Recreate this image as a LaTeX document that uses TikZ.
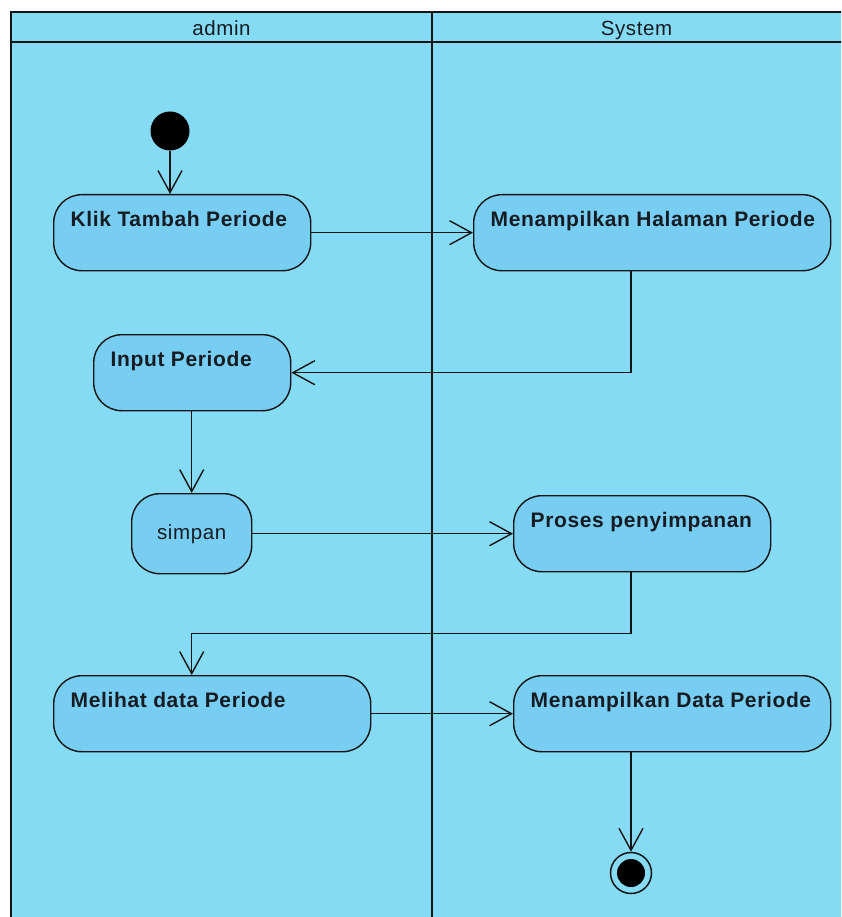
\documentclass[tikz,border=0pt]{standalone}
\usepackage{fontspec}
\setmainfont{Liberation Sans}[LetterSpace=3]
\usetikzlibrary{arrows.meta}
\definecolor{lanefill}{RGB}{133,219,243}
\definecolor{actfill}{RGB}{119,205,242}
\definecolor{ink}{RGB}{20,20,20}
\definecolor{txtink}{RGB}{22,28,34}

\begin{document}
\begin{tikzpicture}[x=1pt,y=-1pt,
  frameline/.style={draw=ink, line width=1.4pt},
  act/.style={draw=ink, fill=actfill, line width=1.4pt, rounded corners=28pt,
    anchor=north west, inner sep=0pt, text=txtink,
    font=\fontsize{20.5}{24}\selectfont},
  acttxt/.style={anchor=base west, inner sep=0pt, text=txtink,
    font=\fontsize{21}{24}\selectfont\bfseries, xshift=17.5pt, yshift=-32.5pt},
  lanetitle/.style={text=txtink, inner sep=0pt, anchor=base,
    font=\fontsize{20.5}{24}\selectfont},
  flow/.style={draw=ink, line width=1.4pt,
    -{Straight Barb[length=22pt,width=24pt,line width=1.4pt]}},
]
% canvas and swimlanes
\clip (0,0) rectangle (841,917);
\fill[white] (0,0) rectangle (841,917);
\fill[lanefill] (11,12) rectangle (845,921);
\draw[frameline] (11,921) -- (11,12) -- (845,12);
\draw[frameline] (11,42) -- (845,42);
\draw[frameline] (432,12) -- (432,921);
\node[lanetitle] (laneA) at (221.5,36) {admin};
\node[lanetitle] (laneS) at (636.5,36) {System};

% start and end
\node[circle, fill=black, minimum size=39pt, inner sep=0pt] (init) at (170,131) {};
\node[circle, draw=ink, line width=1.5pt, minimum size=41pt, inner sep=0pt] (fin) at (631,873) {};
\node[circle, fill=black, minimum size=28pt, inner sep=0pt] (findot) at (fin) {};

% activities
\node[act, minimum width=257pt, minimum height=76pt,
  label={[acttxt]north west:Klik Tambah Periode}] (klik) at (53,194) {};
\node[act, minimum width=357pt, minimum height=76pt,
  label={[acttxt]north west:Menampilkan Halaman Periode}] (halaman) at (473,194) {};
\node[act, minimum width=197pt, minimum height=76pt,
  label={[acttxt]north west:Input Periode}] (input) at (93,334) {};
\node[act, minimum width=120pt, minimum height=80pt] (simpan) at (131,493) {simpan};
\node[act, minimum width=257pt, minimum height=76pt,
  label={[acttxt]north west:Proses penyimpanan}] (proses) at (513,495) {};
\node[act, minimum width=317pt, minimum height=76pt,
  label={[acttxt]north west:Melihat data Periode}] (melihat) at (53,675) {};
\node[act, minimum width=317pt, minimum height=76pt,
  label={[acttxt]north west:Menampilkan Data Periode}] (data) at (513,675) {};

% control flows
\draw[flow] (init) -- (init |- klik.north);
\draw[flow] (klik.east) -- (halaman.west);
\draw[flow] (halaman.south -| fin) |- (input.east);
\draw[flow] (input.south -| simpan) -- (simpan.north);
\draw[flow] (simpan.east) -- (proses.west);
\draw[flow] (proses.south -| fin) -- ++(0,61) -| (simpan.south |- melihat.north);
\draw[flow] (melihat.east) -- (data.west);
\draw[flow] (data.south -| fin) -- (fin.north);
\end{tikzpicture}
\end{document}
